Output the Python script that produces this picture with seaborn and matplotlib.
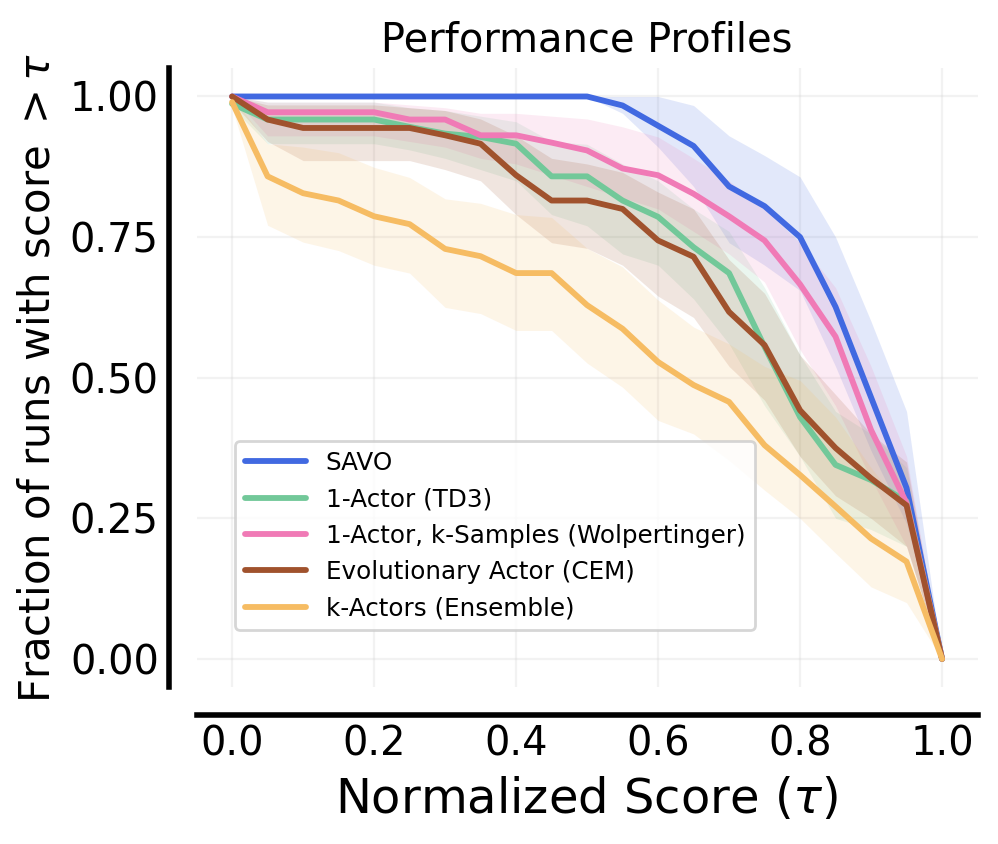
import matplotlib
matplotlib.use("Agg")
import matplotlib.pyplot as plt
import pandas as pd
import seaborn as sns


# -------------------------
# Data
# -------------------------
tau = [0.0, 0.05, 0.1, 0.15, 0.2, 0.25, 0.3, 0.35, 0.4, 0.45, 0.5,
       0.55, 0.6, 0.65, 0.7, 0.75, 0.8, 0.85, 0.9, 0.95, 1.0]

methods = [
    "SAVO",
    "1-Actor (TD3)",
    "1-Actor, k-Samples (Wolpertinger)",
    "Evolutionary Actor (CEM)",
    "k-Actors (Ensemble)",
]
colors = ["#4169E1", "#72C899", "#F07AB6", "#A0522D", "#F6BC63"]

savo_mean = [1.0, 1.0, 1.0, 1.0, 1.0, 1.0, 1.0, 1.0, 1.0, 1.0, 1.0,
             0.984, 0.948, 0.912, 0.84, 0.805, 0.75, 0.626, 0.465, 0.304, 0.0]
savo_lo = [1.0, 1.0, 1.0, 1.0, 1.0, 1.0, 1.0, 1.0, 1.0, 1.0, 1.0,
           0.97, 0.91, 0.84, 0.74, 0.70, 0.655, 0.52, 0.37, 0.24, 0.0]
savo_hi = [1.0, 1.0, 1.0, 1.0, 1.0, 1.0, 1.0, 1.0, 1.0, 1.0, 1.0,
           1.0, 1.0, 0.984, 0.93, 0.895, 0.857, 0.75, 0.60, 0.44, 0.0]

td3_mean = [0.987, 0.959, 0.959, 0.959, 0.959, 0.946, 0.934, 0.928, 0.916, 0.858, 0.858,
            0.815, 0.786, 0.732, 0.686, 0.555, 0.43, 0.345, 0.318, 0.28, 0.0]
td3_lo = [0.98, 0.916, 0.916, 0.916, 0.916, 0.905, 0.89, 0.87, 0.85, 0.79, 0.77,
          0.72, 0.70, 0.64, 0.56, 0.45, 0.36, 0.25, 0.23, 0.2, 0.0]
td3_hi = [1.0, 0.99, 0.99, 0.99, 0.99, 0.98, 0.975, 0.965, 0.955, 0.92, 0.915,
          0.88, 0.85, 0.80, 0.76, 0.66, 0.54, 0.44, 0.40, 0.34, 0.0]

wolp_mean = [1.0, 0.972, 0.972, 0.972, 0.972, 0.959, 0.959, 0.931, 0.931, 0.918, 0.904,
             0.872, 0.860, 0.827, 0.787, 0.744, 0.666, 0.573, 0.407, 0.277, 0.0]
wolp_lo = [1.0, 0.93, 0.93, 0.93, 0.93, 0.92, 0.91, 0.89, 0.88, 0.86, 0.84,
           0.82, 0.80, 0.76, 0.72, 0.67, 0.55, 0.45, 0.32, 0.2, 0.0]
wolp_hi = [1.0, 0.99, 0.99, 0.99, 0.99, 0.985, 0.98, 0.97, 0.97, 0.965, 0.96,
           0.946, 0.928, 0.89, 0.85, 0.80, 0.74, 0.66, 0.52, 0.36, 0.0]

cem_mean = [1.0, 0.959, 0.944, 0.944, 0.944, 0.944, 0.931, 0.916, 0.860, 0.815, 0.815,
            0.800, 0.744, 0.715, 0.617, 0.558, 0.442, 0.375, 0.321, 0.273, 0.0]
cem_lo = [0.99, 0.92, 0.886, 0.886, 0.886, 0.886, 0.87, 0.85, 0.79, 0.74, 0.73,
          0.70, 0.645, 0.607, 0.52, 0.46, 0.36, 0.29, 0.25, 0.2, 0.0]
cem_hi = [1.0, 0.985, 0.985, 0.985, 0.985, 0.98, 0.975, 0.96, 0.93, 0.89, 0.88,
          0.865, 0.83, 0.80, 0.71, 0.65, 0.54, 0.47, 0.40, 0.35, 0.0]

ens_mean = [0.99, 0.858, 0.828, 0.815, 0.787, 0.773, 0.729, 0.716, 0.686, 0.686, 0.629,
            0.587, 0.528, 0.487, 0.457, 0.38, 0.327, 0.271, 0.214, 0.173, 0.0]
ens_lo = [0.98, 0.771, 0.741, 0.726, 0.70, 0.686, 0.625, 0.614, 0.584, 0.584, 0.526,
          0.483, 0.424, 0.40, 0.353, 0.30, 0.25, 0.188, 0.128, 0.10, 0.0]
ens_hi = [1.0, 0.916, 0.91, 0.90, 0.874, 0.856, 0.818, 0.81, 0.79, 0.785, 0.73,
          0.697, 0.638, 0.59, 0.56, 0.52, 0.495, 0.43, 0.34, 0.26, 0.0]

means = [savo_mean, td3_mean, wolp_mean, cem_mean, ens_mean]
lows = [savo_lo, td3_lo, wolp_lo, cem_lo, ens_lo]
highs = [savo_hi, td3_hi, wolp_hi, cem_hi, ens_hi]


# -------------------------
# Long-form table for seaborn
# -------------------------
rows = []
for name, vals in zip(methods, means):
    for t, v in zip(tau, vals):
        rows.append({"tau": t, "frac": v, "method": name})
df = pd.DataFrame(rows)


# -------------------------
# Plot
# -------------------------
sns.set_style("white")
plt.rcParams["font.family"] = ["DejaVu Sans"]
plt.rcParams["text.color"] = "black"
plt.rcParams["axes.labelcolor"] = "black"
plt.rcParams["xtick.color"] = "black"
plt.rcParams["ytick.color"] = "black"

fig, ax = plt.subplots(figsize=(4.99, 4.22), dpi=200)
fig.subplots_adjust(left=0.197, right=0.9795, bottom=0.186, top=0.919)

palette = dict(zip(methods, colors))

for name, lo, hi in zip(methods, lows, highs):
    ax.fill_between(tau, lo, hi, color=palette[name], alpha=0.15, linewidth=0)

sns.lineplot(
    data=df, x="tau", y="frac", hue="method",
    hue_order=methods, palette=palette,
    linewidth=2.1, ax=ax,
)

ax.set_xlim(-0.05, 1.05)
ax.set_ylim(-0.05, 1.05)
ax.set_xticks([0.0, 0.2, 0.4, 0.6, 0.8, 1.0])
ax.set_yticks([0.0, 0.25, 0.5, 0.75, 1.0])
ax.set_xticklabels(["0.0", "0.2", "0.4", "0.6", "0.8", "1.0"])
ax.set_yticklabels(["0.00", "0.25", "0.50", "0.75", "1.00"])

ax.grid(True, alpha=0.25)
ax.spines["right"].set_visible(False)
ax.spines["top"].set_visible(False)
for side in ["left", "bottom"]:
    ax.spines[side].set_linewidth(2)
    ax.spines[side].set_color("black")
    ax.spines[side].set_position(("outward", 10))
ax.tick_params(length=0.1, width=0.1, labelsize=14.4, colors="black")

ax.set_xlabel(r"Normalized Score ($\tau$)", fontsize=17.28, color="black")
ax.set_ylabel(r"Fraction of runs with score $>\tau$", fontsize=15.1, color="black")
ax.set_title("Performance Profiles", fontsize=14.4, color="black")

sns.move_legend(
    ax, "lower left", bbox_to_anchor=(0.049, 0.092),
    title=None, fontsize=8.85, handlelength=2.5, frameon=True,
    borderaxespad=0,
)

fig.savefig("out.png", dpi=200)
